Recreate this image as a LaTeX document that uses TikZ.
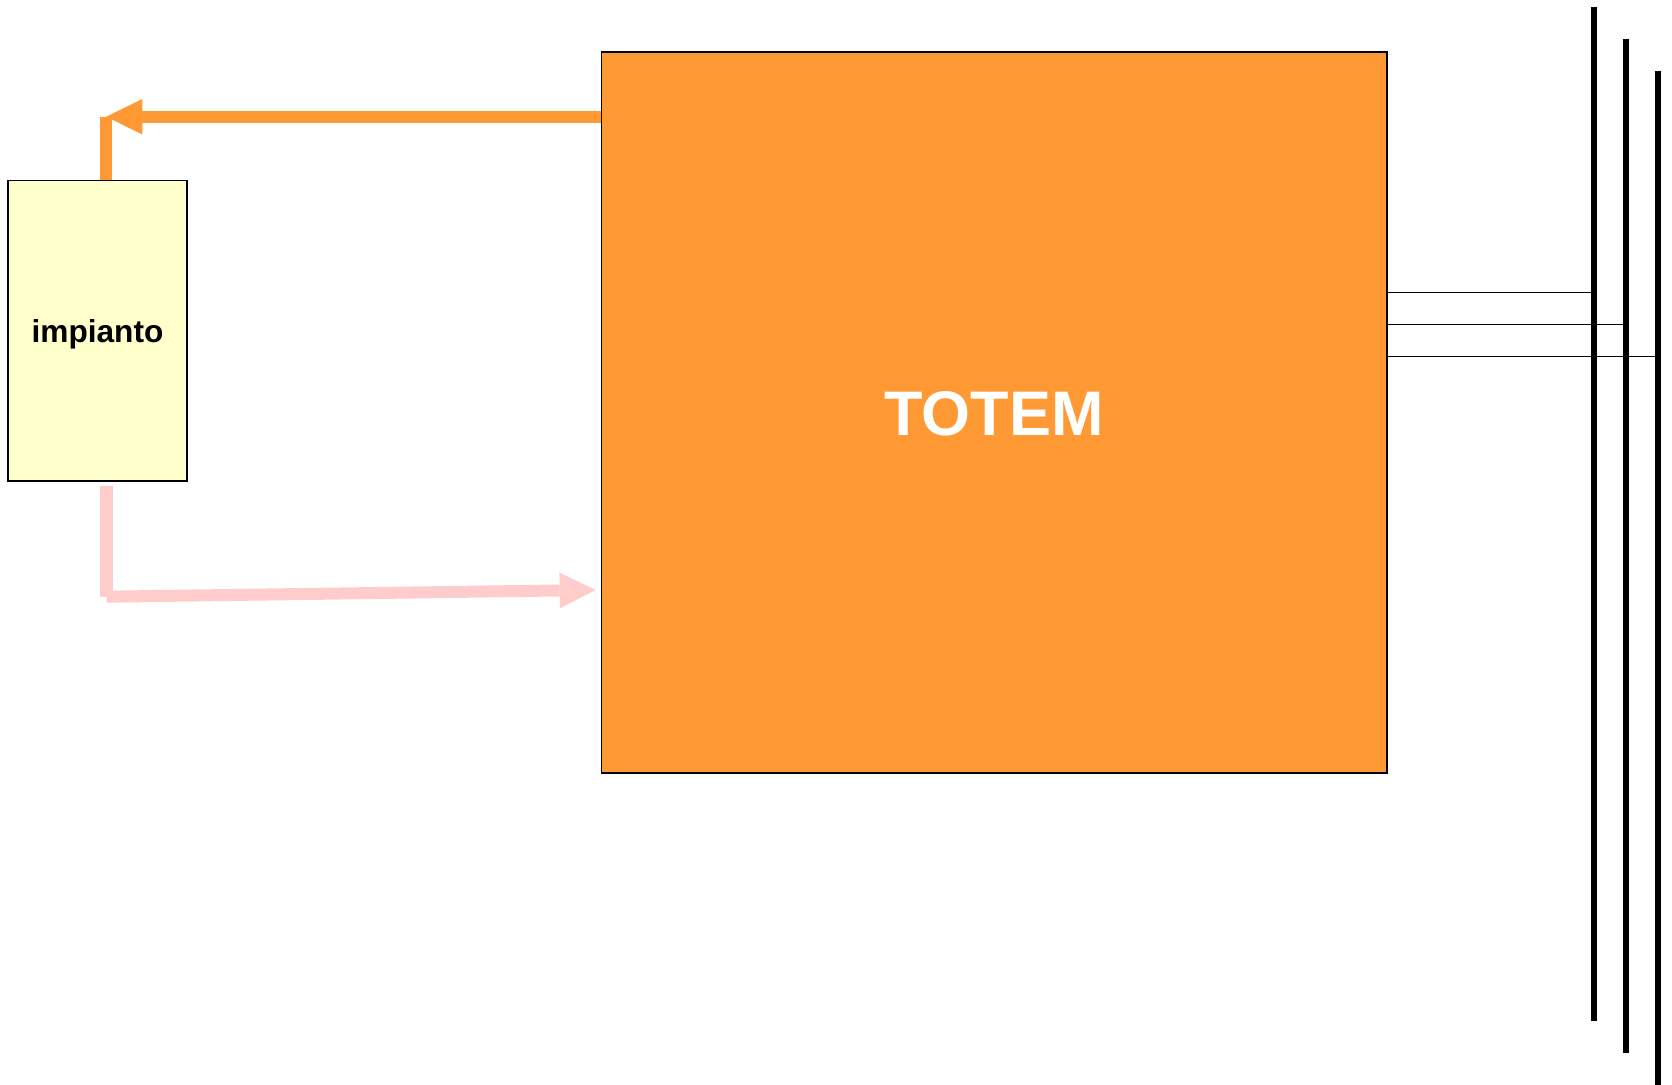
\documentclass[tikz,border=0pt]{standalone}
\usepackage{fontspec}
\setmainfont{Liberation Sans}
\usetikzlibrary{arrows.meta}
\definecolor{totemorange}{HTML}{FF9933}
\definecolor{plantyellow}{HTML}{FFFFCC}
\definecolor{returnpink}{HTML}{FFCCCC}
\tikzset{%
  >={Triangle[length=0.36cm,width=0.355cm,line width=0pt]},
  % Specifications for style of nodes:
            base1/.style = {rectangle, draw=black, line width=0.45pt,
                           inner sep=0pt, text centered, text depth=0pt},
       plantbox/.style = {base1, fill=plantyellow, %yellow!20
                           minimum width=1.784cm, minimum height=3.003cm,
                           text height=6.75pt,
                           font=\fontsize{9}{11}\selectfont\bfseries},
       totembox/.style = {base1, fill=totemorange, text=white, %orange
                           minimum width=7.85cm, minimum height=7.207cm,
                           text height=13.04pt,
                           font=\fontsize{17.9}{20}\selectfont\bfseries},
       feedline/.style = {line width=0.12cm, draw=totemorange},
       returnline/.style = {line width=0.12cm, draw=returnpink},
       busline/.style = {line width=0.063cm, draw=black},
       tapline/.style = {line width=0.45pt, draw=black}
}

\begin{document}
\begin{tikzpicture}[x=0.01cm, y=-0.01cm]
  \useasboundingbox (0,0) rectangle (1672,1085);
  % Specification of nodes (position, etc.)
  \node (totem)				[totembox] at (994.2,412.7) {TOTEM};
  \node (plant)				[plantbox] at (97.5,330.8) {impianto};
  % bends of the two loops
  \coordinate (topbend)		at (106.3,116.7);
  \coordinate (lowstart)	at (106.5,486);
  \coordinate (lowbend)		at (106.5,596.7);
  \coordinate (lowtip)		at (595.7,590);
  \draw[feedline, ->]		(totem.west |- topbend) -- (topbend);
  \draw[feedline]			(plant.north -| topbend) -- (topbend);
  \draw[returnline]			(lowstart) -- (lowbend);
  \draw[returnline, ->]		(lowbend) -- (lowtip);
  % bus bars on the right
  \foreach \bx/\btop/\bbot/\ty [count=\i] in
      {1594.2/6.7/1021/292.7, 1626.3/38.7/1053/324.3, 1658.3/70.7/1095/356.7}{
    \coordinate (tap\i)		at (\bx,\ty);
    \coordinate (bus\i-top)	at (\bx,\btop);
    \coordinate (bus\i-bot)	at (\bx,\bbot);
    \draw[tapline]			(totem.east |- tap\i) -- (tap\i);
  }
  \foreach \i in {1,2,3}
    \draw[busline]			(bus\i-top) -- (bus\i-bot);

\end{tikzpicture}
\end{document}
